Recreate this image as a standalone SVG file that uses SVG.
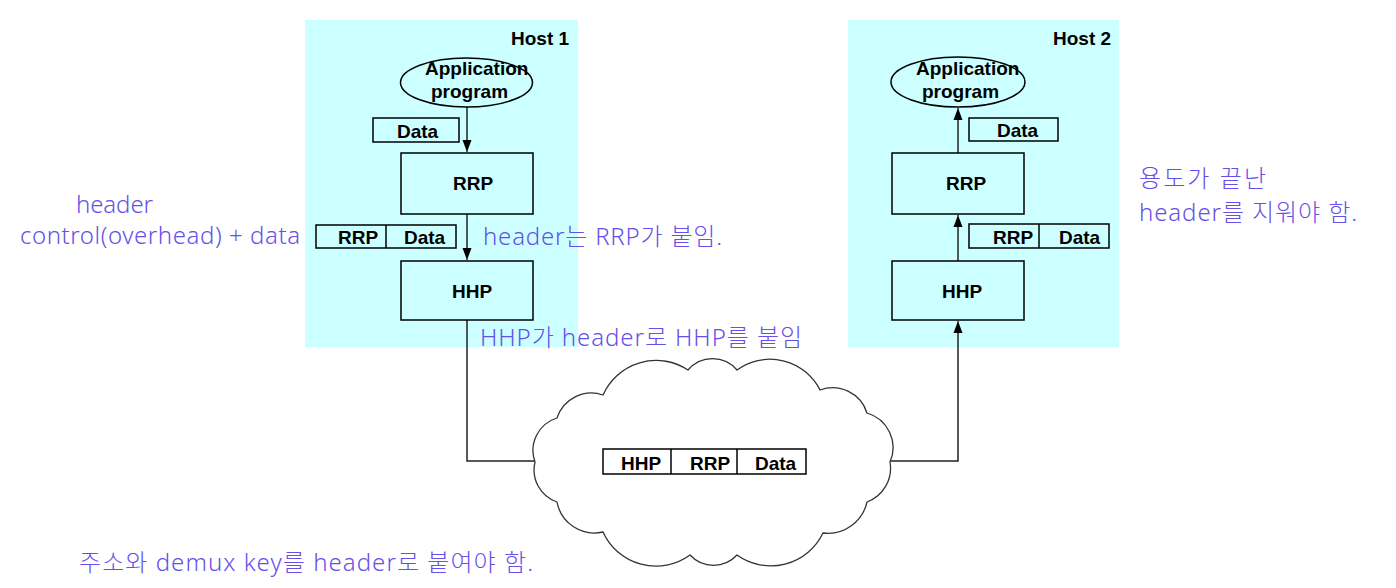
<svg xmlns="http://www.w3.org/2000/svg" width="1396" height="588" viewBox="0 0 1396 588">
<defs>
<marker id="arr" markerWidth="10" markerHeight="14" refX="12" refY="5" orient="auto" markerUnits="userSpaceOnUse">
<path d="M0,0.5 L12,5 L0,9.5 Z" fill="#000"/>
</marker>
<style>
.host{fill:#ccffff;stroke:none}
.box{fill:none;stroke:#000;stroke-width:1.5}
.lbl{font-family:"Liberation Sans",Arial,sans-serif;font-weight:bold;font-size:19px;fill:#000}
.note{font-family:"Noto Sans","Noto Sans CJK KR",sans-serif;font-weight:300;font-size:24px;fill:#6650e8}
.conn{fill:none;stroke:#222;stroke-width:1.5}
</style>
</defs>
<rect width="1396" height="588" fill="#fff"/>

<g id="host1">
<rect class="host" x="305" y="20" width="273" height="327"/>
<text class="lbl" x="511" y="45">Host 1</text>
</g>
<g id="host2">
<rect class="host" x="848" y="20" width="271" height="327"/>
<text class="lbl" x="1053" y="45">Host 2</text>
</g>

<g id="connectors">
<line class="conn" x1="467" y1="107" x2="467" y2="152" marker-end="url(#arr)"/>
<line class="conn" x1="467" y1="214" x2="467" y2="260" marker-end="url(#arr)"/>
<polyline class="conn" points="467,320 467,461 536,461"/>
<polyline class="conn" points="889,461 958,461 958,321" marker-end="url(#arr)"/>
<line class="conn" x1="958" y1="261" x2="958" y2="215" marker-end="url(#arr)"/>
<line class="conn" x1="958" y1="153" x2="958" y2="108" marker-end="url(#arr)"/>
</g>

<g id="app1">
<ellipse class="box" cx="466.5" cy="82.5" rx="66" ry="24.5" fill="none"/>
<text class="lbl" x="425" y="75">Application</text>
<text class="lbl" x="431" y="98">program</text>
</g>
<g id="data1">
<rect class="box" x="373" y="118" width="86" height="24"/>
<text class="lbl" x="397" y="138">Data</text>
</g>
<g id="rrp1">
<rect class="box" x="401" y="153" width="132" height="61"/>
<text class="lbl" x="453" y="190">RRP</text>
</g>
<g id="rrpdata1">
<rect class="box" x="316" y="225" width="140" height="23"/>
<line class="box" x1="386" y1="225" x2="386" y2="248"/>
<text class="lbl" x="338" y="244">RRP</text>
<text class="lbl" x="404" y="244">Data</text>
</g>
<g id="hhp1">
<rect class="box" x="401" y="261" width="132" height="59"/>
<text class="lbl" x="452" y="298">HHP</text>
</g>

<g id="app2">
<ellipse class="box" cx="958" cy="82" rx="67" ry="25"/>
<text class="lbl" x="916" y="75">Application</text>
<text class="lbl" x="922" y="98">program</text>
</g>
<g id="data2">
<rect class="box" x="969" y="118" width="89" height="23"/>
<text class="lbl" x="997" y="137">Data</text>
</g>
<g id="rrp2">
<rect class="box" x="892" y="153" width="132" height="61"/>
<text class="lbl" x="946" y="190">RRP</text>
</g>
<g id="rrpdata2">
<rect class="box" x="969" y="224" width="140" height="24"/>
<line class="box" x1="1039" y1="224" x2="1039" y2="248"/>
<text class="lbl" x="993" y="244">RRP</text>
<text class="lbl" x="1059" y="244">Data</text>
</g>
<g id="hhp2">
<rect class="box" x="892" y="261" width="132" height="59"/>
<text class="lbl" x="942" y="298">HHP</text>
</g>

<g id="cloud">
<path fill="#fff" stroke="#333" stroke-width="1.3" d="M535,462 A34,34 0 0 1 557,418 A36,36 0 0 1 603,395 A58,58 0 0 1 688,370 A32,32 0 0 1 737,370 A56,56 0 0 1 820,390 A36,36 0 0 1 867,413 A36,36 0 0 1 890,462 A36,36 0 0 1 867,502 A40,40 0 0 1 823,533 A58,58 0 0 1 737,555 A32,32 0 0 1 690,555 A58,58 0 0 1 603,532 A38,38 0 0 1 557,502 A34,34 0 0 1 535,462 Z"/>
</g>
<g id="packet">
<rect class="box" x="603" y="449" width="203" height="25"/>
<line class="box" x1="671" y1="449" x2="671" y2="474"/>
<line class="box" x1="737" y1="449" x2="737" y2="474"/>
<text class="lbl" x="621" y="470">HHP</text>
<text class="lbl" x="690" y="470">RRP</text>
<text class="lbl" x="755" y="470">Data</text>
</g>

<g id="notes">
<text class="note" x="76" y="213" textLength="77">header</text>
<text class="note" x="20" y="244" textLength="280">control(overhead) + data</text>
<text class="note" x="483" y="245" textLength="239">header는 RRP가 붙임.</text>
<text class="note" x="480" y="346" textLength="322">HHP가 header로 HHP를 붙임</text>
<text class="note" x="1139" y="187" textLength="127">용도가 끝난</text>
<text class="note" x="1139" y="221" textLength="218">header를 지워야 함.</text>
<text class="note" x="79" y="571" textLength="454">주소와 demux key를 header로 붙여야 함.</text>
</g>
</svg>
